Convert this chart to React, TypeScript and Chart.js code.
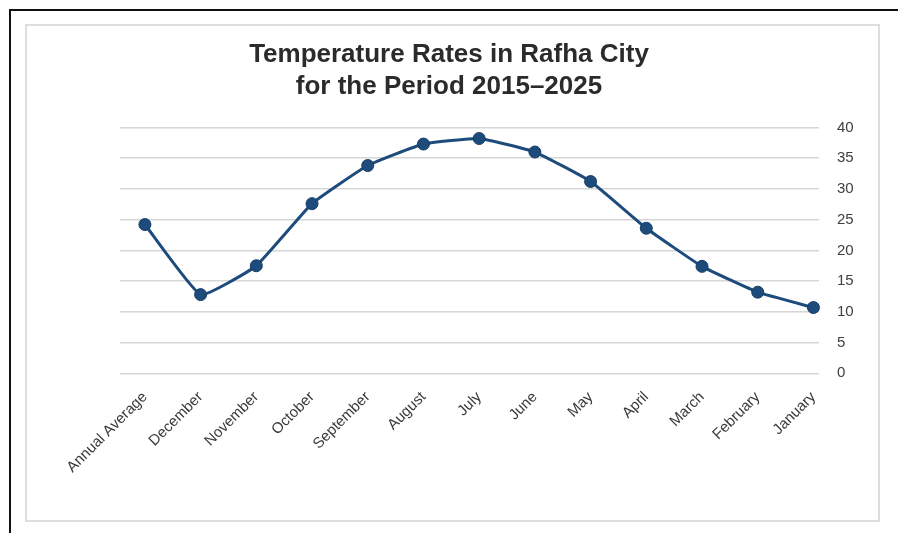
import React, { useEffect, useRef } from "react";
import Chart from "chart.js/auto";

// Monthly temperature means, Rafha City, 2015–2025
const categories = [
  "Annual Average",
  "December",
  "November",
  "October",
  "September",
  "August",
  "July",
  "June",
  "May",
  "April",
  "March",
  "February",
  "January",
];
const temperatures = [24.2, 12.8, 17.5, 27.6, 33.8, 37.3, 38.2, 36.0, 31.2, 23.6, 17.4, 13.2, 10.7];
const yTickValues = [0, 5, 10, 15, 20, 25, 30, 35, 40];
const titleLines = ["Temperature Rates in Rafha City", "for the Period 2015–2025"];

const FONT = '"Liberation Sans", Arial, Helvetica, sans-serif';
const LINE_COLOR = "#1d4b7c";

export default function App() {
  const canvasRef = useRef<HTMLCanvasElement | null>(null);

  useEffect(() => {
    const canvas = canvasRef.current;
    if (!canvas) return;

    const points = temperatures.map((v, i) => ({ x: i, y: v }));

    const chart = new Chart(canvas, {
      type: "line",
      data: {
        datasets: [
          {
            label: "Temperature",
            data: points,
            borderColor: LINE_COLOR,
            borderWidth: 3,
            tension: 0.12,
            pointRadius: 6,
            pointBackgroundColor: LINE_COLOR,
            pointBorderColor: "#163d66",
            pointBorderWidth: 1,
            fill: false,
            clip: false,
          },
        ],
      },
      options: {
        responsive: false,
        animation: false,
        layout: { padding: { left: 0, right: 7, top: 0, bottom: 0 } },
        plugins: {
          legend: { display: false },
          tooltip: { enabled: false },
          title: {
            display: true,
            text: titleLines,
            color: "#2b2b2b",
            font: { family: FONT, size: 26, weight: "bold", lineHeight: 1.22 },
            padding: { top: 13, bottom: 25 },
          },
        },
        scales: {
          x: {
            type: "linear",
            min: -0.447,
            max: 12.1,
            grid: { display: false },
            border: { display: false },
            afterBuildTicks: (axis: any) => {
              axis.ticks = categories.map((_, i) => ({ value: i }));
            },
            afterFit: (axis: any) => {
              axis.height = 146.7;
              // keep the plot area's left edge fixed, clear of the rotated labels
              axis.paddingLeft = 93;
              axis.paddingRight = 0;
            },
            ticks: {
              autoSkip: false,
              maxRotation: 45,
              minRotation: 45,
              padding: 7,
              color: "#3a3a3a",
              font: { family: FONT, size: 15 },
              callback: (value: any) => categories[Number(value)] ?? "",
            },
          },
          y: {
            position: "right",
            min: 0,
            max: 40,
            afterBuildTicks: (axis: any) => {
              axis.ticks = yTickValues.map((v) => ({ value: v }));
            },
            afterFit: (axis: any) => {
              axis.width = 52;
            },
            grid: { color: "#d6d6d6", lineWidth: 1.6, drawTicks: false },
            border: { display: false },
            ticks: {
              padding: 18,
              color: "#404040",
              font: { family: FONT, size: 15 },
            },
          },
        },
      },
    });

    return () => chart.destroy();
  }, []);

  return (
    <div
      style={{
        position: "fixed",
        left: 0,
        top: 0,
        width: 898,
        height: 533,
        background: "#ffffff",
        overflow: "hidden",
      }}
    >
      <div
        style={{
          position: "absolute",
          left: 9,
          top: 9,
          width: 900,
          height: 540,
          borderTop: "2px solid #111",
          borderLeft: "2px solid #111",
        }}
      />
      <div
        style={{
          position: "absolute",
          left: 25,
          top: 24,
          width: 855,
          height: 498,
          border: "2px solid #dedede",
          boxSizing: "border-box",
          background: "#ffffff",
        }}
      >
        <canvas
          ref={canvasRef}
          width={851}
          height={494}
          style={{ position: "absolute", left: 0, top: 0, width: 851, height: 494 }}
        />
      </div>
    </div>
  );
}
